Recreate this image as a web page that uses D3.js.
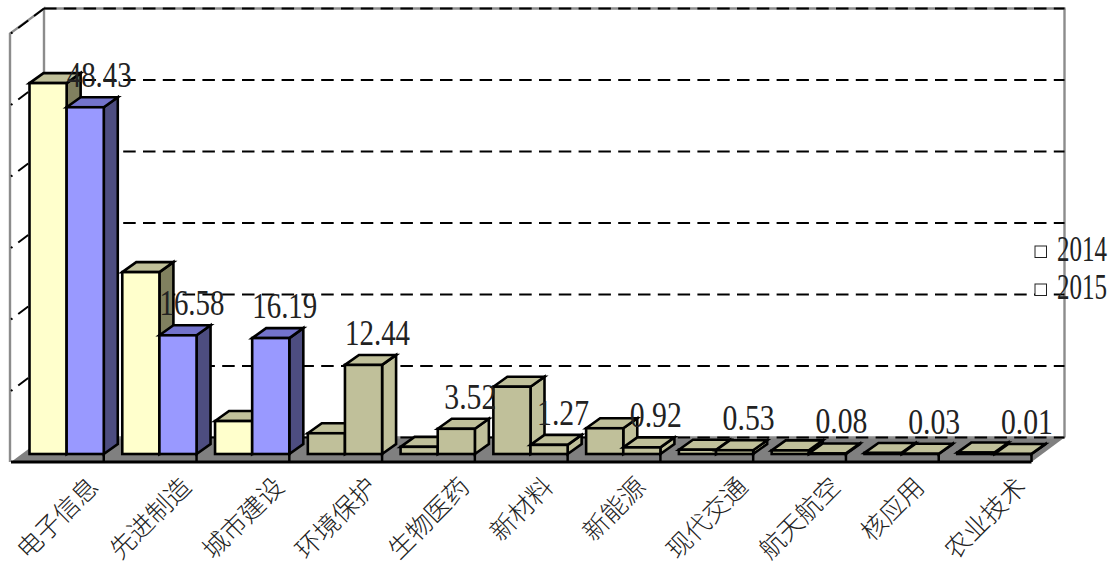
<!DOCTYPE html>
<html>
<head>
<meta charset="utf-8">
<script src="https://cdn.jsdelivr.net/npm/d3@7"></script>
<style>
body{margin:0;background:#fff}
svg{display:block}
.num{font-family:"Liberation Serif",serif;font-size:36px;fill:#222}
</style>
</head>
<body>
<svg id="canvas" width="1115" height="567"></svg>
<script>
const categories=["电子信息","先进制造","城市建设","环境保护","生物医药","新材料","新能源","现代交通","航天航空","核应用","农业技术"]
const seriesNames=["2014","2015"]
const values2014=[51.8,25.4,4.6,2.9,1.0,9.4,3.6,0.6,0.5,0.15,0.2]
const values2015=[48.43,16.58,16.19,12.44,3.52,1.27,0.92,0.53,0.08,0.03,0.01]
const gridTicks=[0,10,20,30,40,50,60]

const svg=d3.select("#canvas")

// plot box, front edge of the floor
const left=11,right=1031.5,floorY=462
// wall offset and bar offset for the fake 3d
const wallDx=33,wallDy=-25
const barDx=14,barDy=-10
const baseY=454

const x=d3.scaleBand().domain(categories).range([left,right])
const inner=d3.scaleBand().domain(seriesNames).range([18.5,x.bandwidth()]).paddingOuter(0)
const y=d3.scaleLinear().domain([0,60]).range([baseY,baseY-429.6])
const wallY=d3.scaleLinear().domain([0,60]).range([floorY+wallDy+0.5,8.5])

const poly=(pts)=>pts.map(p=>p.join(",")).join(" ")

// walls
const backX=left+wallDx
svg.append("path")
    .attr("d",`M${left-1},${floorY} L${left-1},${wallY(60)-wallDy} L${backX},${wallY(60)} L${backX},${wallY(0)}`)
    .attr("fill","none").attr("stroke","#8c8c8c").attr("stroke-width",2.4)
svg.append("line")
    .attr("x1",backX).attr("x2",right+wallDx+1).attr("y1",wallY(60)).attr("y2",wallY(60))
    .attr("stroke","#8c8c8c").attr("stroke-width",2.4)
svg.append("line")
    .attr("x1",right+wallDx).attr("x2",right+wallDx).attr("y1",wallY(60)).attr("y2",wallY(0))
    .attr("stroke","#8c8c8c").attr("stroke-width",2.4)

// floor
svg.append("polygon")
    .attr("points",poly([[left,floorY],[backX,wallY(0)],[right+wallDx,wallY(0)],[right,floorY]]))
    .attr("fill","#808080")
svg.append("line")
    .attr("x1",backX).attr("x2",right+wallDx).attr("y1",wallY(0)).attr("y2",wallY(0))
    .attr("stroke","#8c8c8c").attr("stroke-width",2.4)

// grid lines on both walls
gridTicks.forEach(t=>{
    svg.append("line")
        .attr("x1",backX).attr("x2",right+wallDx).attr("y1",wallY(t)).attr("y2",wallY(t))
        .attr("stroke","#000").attr("stroke-width",2).attr("stroke-dasharray","12.5,7.3")
    if(t>0){
        svg.append("line")
            .attr("x1",backX).attr("x2",left).attr("y1",wallY(t)).attr("y2",wallY(t)-wallDy)
            .attr("stroke","#000").attr("stroke-width",2).attr("stroke-dasharray","12.5,7.3")
    }
})

// front axis line and category ticks
const axis=d3.axisBottom(x).tickSize(0).tickPadding(0)
const axisG=svg.append("g").attr("transform",`translate(0,${floorY})`).call(axis)
axisG.select(".domain").remove()
// labels are centred under the band, tops level with each other
axisG.selectAll("text")
    .attr("text-anchor","middle")
    .attr("transform",(d)=>`translate(0,${56-(4-d.length)*9}) rotate(-45)`)
    .attr("y",0)
    .attr("dy","0.36em")
    .style("font-family",'"Noto Sans CJK SC"')
    .style("font-weight",300)
    .style("font-size","25.5px")
    .style("fill","#222")

const colors={
    "2014":{front:"#FFFFCC",top:"#C0C09A",side:"#80805F"},
    "2015":{front:"#9999FF",top:"#7373CC",side:"#4D4D80"}
}
const olive={front:"#C0C09A",top:"#C0C09A",side:"#C0C09A"}
const styleFor=(i,name)=>i<3?colors[name]:olive

const barW=inner.bandwidth()
const drawBar=(i,name,value)=>{
    const x0=x(categories[i])+inner(name)
    const x1=x0+barW
    const yTop=y(value)
    const s=styleFor(i,name)
    const g=svg.append("g").attr("stroke","#000").attr("stroke-width",2.6).attr("stroke-linejoin","miter")
    g.append("polygon").attr("fill",s.side)
        .attr("points",poly([[x1,yTop],[x1+barDx,yTop+barDy],[x1+barDx,baseY+barDy],[x1,baseY]]))
    g.append("polygon").attr("fill",s.top)
        .attr("points",poly([[x0,yTop],[x0+barDx,yTop+barDy],[x1+barDx,yTop+barDy],[x1,yTop]]))
    g.append("rect").attr("fill",s.front)
        .attr("x",x0).attr("y",yTop).attr("width",barW).attr("height",baseY-yTop)
}

categories.forEach((c,i)=>{
    drawBar(i,"2014",values2014[i])
    drawBar(i,"2015",values2015[i])
})

// front edge over the bars' feet
svg.append("line")
    .attr("x1",left).attr("x2",right).attr("y1",floorY).attr("y2",floorY)
    .attr("stroke","#000").attr("stroke-width",3)
categories.forEach((c)=>{
    svg.append("line")
        .attr("x1",x(c)+x.bandwidth()).attr("x2",x(c)+x.bandwidth())
        .attr("y1",baseY).attr("y2",floorY)
        .attr("stroke","#000").attr("stroke-width",2.5)
})

// value labels, squeezed like the half width digits of the original font
categories.forEach((c,i)=>{
    const v=values2015[i]
    const s=v.toFixed(2)
    svg.append("text").attr("class","num")
        .attr("x",x(c)+inner("2015")+barW/2+14)
        .attr("y",y(v)-20)
        .attr("text-anchor","middle")
        .attr("textLength",13*s.length)
        .attr("lengthAdjust","spacingAndGlyphs")
        .text(s)
})

// legend
seriesNames.forEach((name,i)=>{
    svg.append("rect")
        .attr("x",1035).attr("y",246+38*i).attr("width",11.5).attr("height",11.5)
        .attr("fill","#fff").attr("stroke","#222").attr("stroke-width",1)
    svg.append("text").attr("class","num")
        .attr("transform",`translate(1057,${261+37.5*i}) scale(0.694,1)`)
        .text(name)
})
</script>
</body>
</html>
